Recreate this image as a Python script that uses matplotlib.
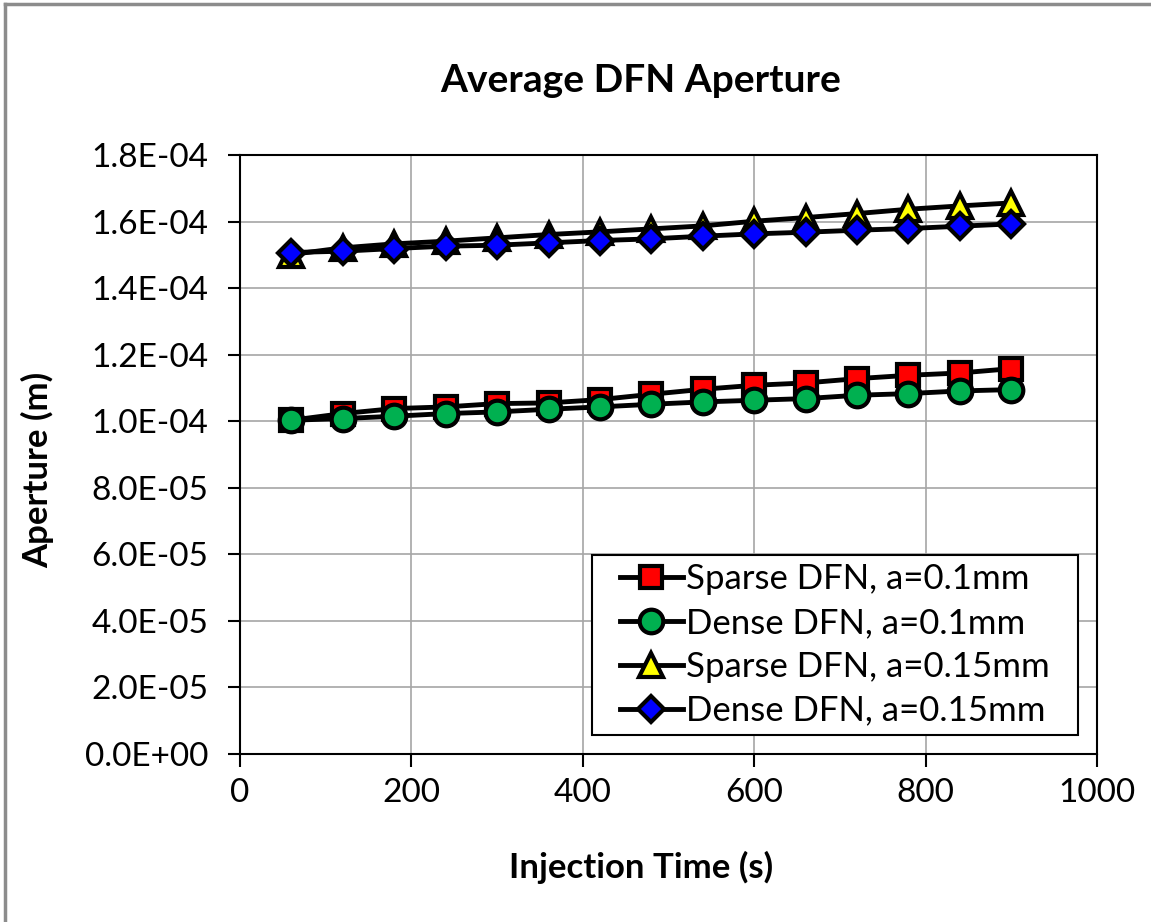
import matplotlib
matplotlib.use('Agg')
from matplotlib import pyplot as plt
from matplotlib.lines import Line2D
from matplotlib.patches import Rectangle

# injection time (s)
time_s = [60, 120, 180, 240, 300, 360, 420, 480, 540, 600, 660, 720, 780, 840, 900]

# average aperture (m)
sparse_01 = [1.003e-4, 1.023e-4, 1.038e-4, 1.043e-4, 1.053e-4, 1.055e-4, 1.065e-4, 1.081e-4,
             1.096e-4, 1.108e-4, 1.115e-4, 1.128e-4, 1.138e-4, 1.145e-4, 1.158e-4]
dense_01 = [1.003e-4, 1.008e-4, 1.015e-4, 1.023e-4, 1.028e-4, 1.036e-4, 1.043e-4, 1.051e-4,
            1.058e-4, 1.063e-4, 1.068e-4, 1.078e-4, 1.083e-4, 1.091e-4, 1.095e-4]
sparse_015 = [1.501e-4, 1.521e-4, 1.533e-4, 1.541e-4, 1.551e-4, 1.561e-4, 1.569e-4, 1.578e-4,
              1.587e-4, 1.601e-4, 1.612e-4, 1.624e-4, 1.637e-4, 1.647e-4, 1.656e-4]
dense_015 = [1.507e-4, 1.511e-4, 1.519e-4, 1.526e-4, 1.529e-4, 1.536e-4, 1.543e-4, 1.548e-4,
             1.556e-4, 1.563e-4, 1.568e-4, 1.574e-4, 1.579e-4, 1.586e-4, 1.593e-4]

labels = ['Sparse DFN, a=0.1mm', 'Dense DFN, a=0.1mm',
          'Sparse DFN, a=0.15mm', 'Dense DFN, a=0.15mm']
ytick_labels = ['0.0E+00', '2.0E-05', '4.0E-05', '6.0E-05', '8.0E-05',
                '1.0E-04', '1.2E-04', '1.4E-04', '1.6E-04', '1.8E-04']

plt.rcParams['font.family'] = ['Lato', 'DejaVu Sans']

W, H = 1151, 922
fig = plt.figure(figsize=(W / 100, H / 100), dpi=100)
ax = fig.add_axes([240 / W, 1 - 754 / H, (1097 - 240) / W, (754 - 155) / H])

# outer chart border (only top and left visible)
fig.add_artist(Line2D([5 / W, 1], [1 - 4 / H, 1 - 4 / H], color='#8c8c8c', lw=2.5,
                      transform=fig.transFigure))
fig.add_artist(Line2D([5 / W, 5 / W], [0, 1 - 4 / H], color='#8c8c8c', lw=2.5,
                      transform=fig.transFigure))

styles = [
    (sparse_01, 's', '#ff0000', 16),
    (dense_01, 'o', '#00b050', 17),
    (sparse_015, '^', '#ffff00', 17),
    (dense_015, 'D', '#0000ff', 13),
]
for (vals, mk, col, ms), lab in zip(styles, labels):
    ax.plot(time_s, vals, color='black', lw=3.5, marker=mk, markersize=ms,
            markerfacecolor=col, markeredgecolor='black', markeredgewidth=3,
            label=lab, zorder=3)

ax.set_xlim(0, 1000)
ax.set_ylim(0, 1.8e-4)
ax.set_xticks(range(0, 1001, 200))
ax.set_yticks([i * 2e-5 for i in range(10)])
ax.set_yticklabels(ytick_labels)
ax.grid(True, color='#a6a6a6', lw=1.2)
ax.set_axisbelow(True)
for s in ax.spines.values():
    s.set_color('black')
    s.set_linewidth(1.5)
ax.tick_params(labelsize=24, length=9, width=1.5, direction='out')
ax.tick_params(axis='y', pad=14)
ax.tick_params(axis='x', pad=8)

fig.suptitle('Average DFN Aperture', x=641 / W, y=1 - 80 / H, va='center',
             fontsize=28, fontweight='bold')
ax.set_xlabel('Injection Time (s)', fontsize=25, fontweight='bold')
ax.xaxis.set_label_coords((641 - 240) / 857, (754 - 867) / 599)
ax.xaxis.label.set_va('center')
ax.set_ylabel('Aperture (m)', fontsize=25, fontweight='bold')
ax.yaxis.set_label_coords((38 - 240) / 857, (754 - 470) / 599)
ax.yaxis.label.set_va('center')

# legend box drawn separately so padding can match the original
box = Rectangle((592 / W, 1 - 735 / H), (1078 - 592) / W, (735 - 555) / H,
                transform=fig.transFigure, facecolor='white', edgecolor='black',
                lw=1.5, zorder=4)
ax.add_patch(box)
box.set_clip_on(False)
leg = ax.legend(loc='center', bbox_to_anchor=(((592 + 1078) / 2 - 240) / 857,
                                              (754 - (555 + 735) / 2) / 599),
                fontsize=25, frameon=False, handlelength=1.8, handletextpad=0.1,
                labelspacing=0.34, borderpad=0, borderaxespad=0)
leg.set_zorder(5)

fig.savefig('out.png', dpi=100, facecolor='white')
